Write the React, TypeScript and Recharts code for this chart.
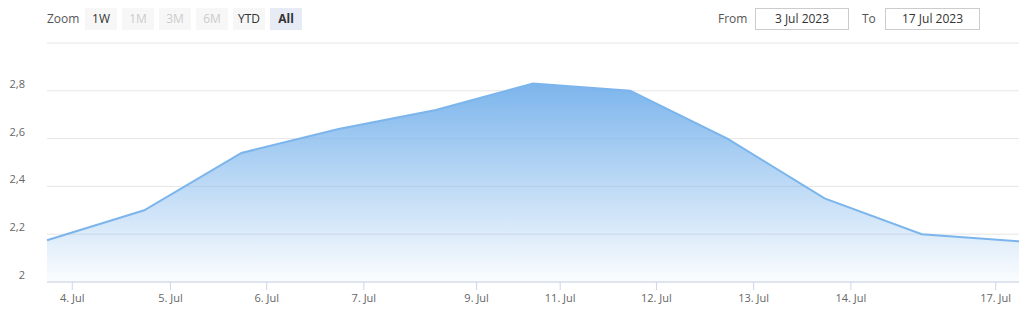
import { AreaChart, Area, XAxis, YAxis, CartesianGrid } from "recharts";

const dates = ["3 Jul", "4 Jul", "5 Jul", "6 Jul", "7 Jul", "10 Jul", "11 Jul", "12 Jul", "13 Jul", "14 Jul", "17 Jul"];
const values = [2.175, 2.3, 2.54, 2.64, 2.72, 2.83, 2.8, 2.6, 2.35, 2.2, 2.17];

// ordinal axis: ticks sit between trading days
const xTickPos = [0.26, 1.27, 2.26, 3.26, 4.42, 5.28, 6.27, 7.27, 8.27, 9.76];
const xTickLabels = ["4. Jul", "5. Jul", "6. Jul", "7. Jul", "9. Jul", "11. Jul", "12. Jul", "13. Jul", "14. Jul", "17. Jul"];
const yTicks = [2, 2.2, 2.4, 2.6, 2.8, 3];

const buttons = ["1W", "1M", "3M", "6M", "YTD", "All"];
const disabled = ["1M", "3M", "6M"];

const font = "'Open Sans', 'DejaVu Sans', sans-serif";

export default function App() {
  const data = values.map((v, i) => ({ i, date: dates[i], v }));

  const YTick = (props: any) => {
    const { x, y, payload } = props;
    if (payload.value === 3) return null;
    return (
      <text x={x - 14} y={y - 3} textAnchor="end" fill="#666" fontSize={11} fontFamily={font}>
        {String(payload.value).replace(".", ",")}
      </text>
    );
  };

  const XTick = (props: any) => {
    const { x, y, index } = props;
    return (
      <text x={x} y={y + 10} textAnchor="middle" fill="#666" fontSize={11} fontFamily={font}>
        {xTickLabels[index]}
      </text>
    );
  };

  return (
    <div style={{ position: "absolute", left: 0, top: 0, width: 1031, height: 313, background: "#fff", fontFamily: font }}>
      <div style={{ position: "absolute", left: 47, top: 10, fontSize: 12, color: "#555" }}>Zoom</div>
      {buttons.map((b, k) => (
        <div
          key={b}
          style={{
            position: "absolute",
            left: 85 + k * 37,
            top: 8,
            width: 32,
            height: 22,
            lineHeight: "22px",
            textAlign: "center",
            fontSize: 12,
            background: b === "All" ? "#e6ebf5" : "#f7f7f7",
            color: disabled.includes(b) ? "#cccccc" : "#333",
            fontWeight: b === "All" ? 700 : 400,
          }}
        >
          {b}
        </div>
      ))}
      <div style={{ position: "absolute", left: 718, top: 10, fontSize: 12, color: "#555" }}>From</div>
      <div
        style={{
          position: "absolute", left: 755, top: 8, width: 92, height: 20, border: "1px solid #ccc",
          textAlign: "center", lineHeight: "20px", fontSize: 12, color: "#333",
        }}
      >
        3 Jul 2023
      </div>
      <div style={{ position: "absolute", left: 862, top: 10, fontSize: 12, color: "#555" }}>To</div>
      <div
        style={{
          position: "absolute", left: 885, top: 8, width: 93, height: 20, border: "1px solid #ccc",
          textAlign: "center", lineHeight: "20px", fontSize: 12, color: "#333",
        }}
      >
        17 Jul 2023
      </div>

      <div style={{ position: "absolute", left: 0, top: 0 }}>
        <AreaChart width={1031} height={313} data={data} margin={{ top: 43, right: 12, bottom: 0, left: 0 }}>
          <defs>
            <linearGradient id="fillBlue" x1="0" y1="0" x2="0" y2="1">
              <stop offset="0%" stopColor="#7cb5ec" stopOpacity={1} />
              <stop offset="100%" stopColor="#7cb5ec" stopOpacity={0.03} />
            </linearGradient>
          </defs>
          <CartesianGrid vertical={false} stroke="#e6e6e6" />
          <XAxis
            dataKey="i"
            type="number"
            domain={[0, 10]}
            ticks={xTickPos}
            interval={0}
            height={31}
            stroke="#ccd6eb"
            tickLine={{ stroke: "#ccd6eb" }}
            tickSize={8}
            tick={XTick}
          />
          <YAxis
            type="number"
            domain={[2, 3]}
            ticks={yTicks}
            width={47}
            axisLine={false}
            tickLine={false}
            tick={YTick}
          />
          <Area
            type="linear"
            dataKey="v"
            stroke="#7cb5ec"
            strokeWidth={2}
            fill="url(#fillBlue)"
            fillOpacity={1}
            baseValue={2}
            isAnimationActive={false}
            dot={false}
            activeDot={false}
          />
        </AreaChart>
      </div>
    </div>
  );
}
